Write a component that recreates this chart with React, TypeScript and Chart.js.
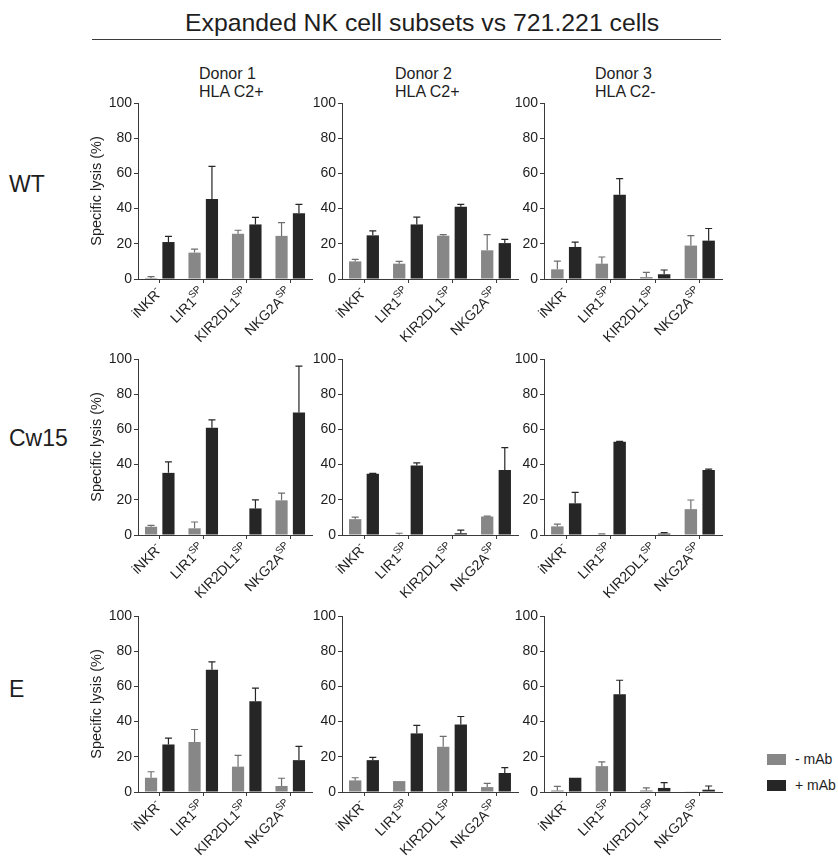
import React, { useEffect, useRef } from 'react';
import { Chart, registerables } from 'chart.js';

Chart.register(...registerables);

// ---------- data ----------
const categories = ['iNKR', 'LIR1', 'KIR2DL1', 'NKG2A'];
const categorySup = ['-', 'SP', 'SP', 'SP'];
const yTicks = [0, 20, 40, 60, 80, 100];
const rowLabels = ['WT', 'Cw15', 'E'];
const donorNames = ['Donor 1', 'Donor 2', 'Donor 3'];
const donorHla = ['HLA C2+', 'HLA C2+', 'HLA C2-'];
const seriesNames = ['- mAb', '+ mAb'];
const chartTitle = 'Expanded NK cell subsets vs 721.221 cells';
const yAxisTitle = 'Specific lysis (%)';

// each: [donor][category]
const wtMinus = [[0.6, 15, 25.7, 24.5], [10, 8.7, 24.6, 16.3], [5.5, 8.7, 1.1, 19]];
const wtMinusErr = [[0.7, 2, 2, 7.5], [1.2, 1.3, 0.6, 8.9], [4.7, 3.8, 2.7, 5.6]];
const wtPlus = [[21, 45.5, 31, 37.3], [24.8, 31, 41, 20.4], [18.2, 47.9, 2.7, 21.8]];
const wtPlusErr = [[3.2, 18.5, 4, 5.1], [2.6, 4.2, 1.4, 2.1], [2.8, 9.1, 2.4, 6.9]];

const cwMinus = [[4.7, 3.8, 0, 19.7], [9, 0.3, 0, 10.5], [4.9, 0.3, 0, 14.7]];
const cwMinusErr = [[0.8, 3.6, 0, 4.1], [1.2, 0.7, 0, 0.2], [1.3, 0.3, 0, 5.2]];
const cwPlus = [[35.3, 61, 15.1, 69.6], [34.8, 39.5, 1, 37], [18, 53, 0.8, 37]];
const cwPlusErr = [[6.3, 4.4, 4.9, 26.4], [0.2, 1.5, 1.8, 12.7], [6.2, 0.2, 0.5, 0.4]];

const eMinus = [[8.1, 28.4, 14.4, 3.4], [6.6, 6.2, 25.7, 2.8], [0.9, 14.7, 0.9, 0.2]];
const eMinusErr = [[3.4, 7.1, 6.4, 4.4], [1.5, 0, 5.9, 2.1], [2.3, 2.4, 1.5, 0]];
const ePlus = [[27, 69.4, 51.6, 18.1], [18.1, 33.3, 38.4, 10.8], [8.1, 55.5, 2.3, 1.3]];
const ePlusErr = [[3.6, 4.5, 7.4, 7.8], [1.6, 4.5, 4.5, 3], [0, 8, 3, 2.1]];

const rowsMinus = [wtMinus, cwMinus, eMinus];
const rowsMinusErr = [wtMinusErr, cwMinusErr, eMinusErr];
const rowsPlus = [wtPlus, cwPlus, ePlus];
const rowsPlusErr = [wtPlusErr, cwPlusErr, ePlusErr];

// ---------- styling / layout ----------
const FONT = '"Liberation Sans", Arial, Helvetica, sans-serif';
const GRAY = '#878787';
const BLACK = '#262626';
const AXIS = '#3a3a3a';
const TEXT = '#1e1e1e';

const colLefts = [138, 342, 544];
const colWidths = [174, 176, 178];
const rowTops = [103, 359, 616];
const plotH = 176;
const yAxisW = 54;
const topPad = 12;
const xAxisH = 70;
const rightPad = 6;

const errorBarPlugin = {
  id: 'errorBars',
  afterDatasetsDraw(chart: any) {
    const ctx = chart.ctx;
    const ys = chart.scales.y;
    chart.data.datasets.forEach((ds: any, di: number) => {
      const meta = chart.getDatasetMeta(di);
      ctx.save();
      ctx.strokeStyle = ds.errorColor;
      ctx.lineWidth = 1.2;
      meta.data.forEach((bar: any, i: number) => {
        const err = ds.errors[i];
        if (!err) return;
        const v = ds.data[i];
        const yBase = ys.getPixelForValue(v);
        const yTop = ys.getPixelForValue(v + err);
        const x = bar.x;
        ctx.beginPath();
        ctx.moveTo(x, yBase);
        ctx.lineTo(x, yTop);
        ctx.moveTo(x - 3.5, yTop);
        ctx.lineTo(x + 3.5, yTop);
        ctx.stroke();
      });
      ctx.restore();
    });
  },
};

const xLabelPlugin = {
  id: 'xSupLabels',
  afterDraw(chart: any) {
    const ctx = chart.ctx;
    const xs = chart.scales.x;
    ctx.save();
    ctx.fillStyle = TEXT;
    categories.forEach((c, i) => {
      const x = xs.getPixelForTick(i);
      const y = xs.top + 12;
      ctx.save();
      ctx.translate(x, y);
      ctx.rotate(-Math.PI / 4);
      ctx.textAlign = 'right';
      ctx.textBaseline = 'middle';
      ctx.font = `10px ${FONT}`;
      const sup = categorySup[i];
      const sw = ctx.measureText(sup).width;
      ctx.fillText(sup, 0, -5);
      ctx.font = `14px ${FONT}`;
      ctx.fillText(c, -sw + 0.5, 0);
      ctx.restore();
    });
    ctx.restore();
  },
};

function Panel({ row, col }: { row: number; col: number }) {
  const ref = useRef<HTMLCanvasElement | null>(null);
  const w = colWidths[col] + yAxisW + rightPad;
  const h = plotH + topPad + xAxisH;
  useEffect(() => {
    if (!ref.current) return;
    const chart = new Chart(ref.current, {
      type: 'bar',
      data: {
        labels: categories,
        datasets: [
          {
            label: seriesNames[0],
            data: rowsMinus[row][col],
            errors: rowsMinusErr[row][col],
            errorColor: '#6e6e6e',
            backgroundColor: GRAY,
            categoryPercentage: 0.8,
            barPercentage: 0.7,
          } as any,
          {
            label: seriesNames[1],
            data: rowsPlus[row][col],
            errors: rowsPlusErr[row][col],
            errorColor: BLACK,
            backgroundColor: BLACK,
            categoryPercentage: 0.8,
            barPercentage: 0.7,
          } as any,
        ],
      },
      options: {
        responsive: false,
        animation: false,
        devicePixelRatio: 1,
        layout: { padding: { left: 0, top: topPad, right: rightPad, bottom: 0 } },
        plugins: { legend: { display: false }, tooltip: { enabled: false }, title: { display: false } },
        scales: {
          x: {
            offset: true,
            grid: { display: true, drawOnChartArea: false, drawTicks: true, tickLength: 4, color: AXIS, offset: false },
            border: { display: true, color: AXIS, width: 1 },
            ticks: { display: false },
            afterFit: (s: any) => { s.height = xAxisH; },
          },
          y: {
            min: 0,
            max: 100,
            grid: { display: true, drawOnChartArea: false, drawTicks: true, tickLength: 4, color: AXIS },
            border: { display: true, color: AXIS, width: 1 },
            ticks: { color: TEXT, font: { family: FONT, size: 14 }, padding: 2 },
            afterBuildTicks: (s: any) => { s.ticks = yTicks.map((v) => ({ value: v })); },
            afterFit: (s: any) => { s.width = yAxisW; },
            title: {
              display: col === 0,
              text: yAxisTitle,
              color: TEXT,
              font: { family: FONT, size: 14.5 },
              padding: { top: 4, bottom: 4 },
            },
          },
        },
      },
      plugins: [errorBarPlugin, xLabelPlugin],
    } as any);
    return () => chart.destroy();
  }, [row, col]);
  return (
    <canvas
      ref={ref}
      width={w}
      height={h}
      style={{
        position: 'absolute',
        left: colLefts[col] - yAxisW,
        top: rowTops[row] - topPad,
        width: w,
        height: h,
      }}
    />
  );
}

export default function App() {
  const textBase: React.CSSProperties = { position: 'absolute', fontFamily: FONT, color: TEXT, whiteSpace: 'nowrap' };
  const donorLefts = [199, 395, 595];
  const rowLabelCenters = [184, 438, 689];
  return (
    <div style={{ position: 'absolute', left: 0, top: 0, width: 838, height: 860, background: '#fff', overflow: 'hidden' }}>
      <div style={{ ...textBase, left: 185, top: 8, fontSize: 24.8, lineHeight: '30px' }}>{chartTitle}</div>
      <div style={{ position: 'absolute', left: 92, top: 39, width: 629, height: 0, borderTop: `1px solid ${AXIS}` }} />
      {donorNames.map((d, i) => (
        <div key={d} style={{ ...textBase, left: donorLefts[i], top: 65, fontSize: 16, lineHeight: '18px' }}>
          {d}
          <br />
          {donorHla[i]}
        </div>
      ))}
      {rowLabels.map((r, i) => (
        <div key={r} style={{ ...textBase, left: 9, top: rowLabelCenters[i] - 14, fontSize: 23, lineHeight: '28px' }}>
          {r}
        </div>
      ))}
      {rowLabels.map((_, r) =>
        [0, 1, 2].map((c) => <Panel key={`${r}-${c}`} row={r} col={c} />)
      )}
      {seriesNames.map((s, i) => (
        <div key={s} style={{ position: 'absolute', left: 767, top: 752 + i * 26, height: 14, display: 'flex', alignItems: 'center' }}>
          <div style={{ width: 19, height: 11, background: i === 0 ? GRAY : BLACK }} />
          <div style={{ fontFamily: FONT, fontSize: 14, color: TEXT, marginLeft: 9, whiteSpace: 'nowrap' }}>{s}</div>
        </div>
      ))}
    </div>
  );
}
